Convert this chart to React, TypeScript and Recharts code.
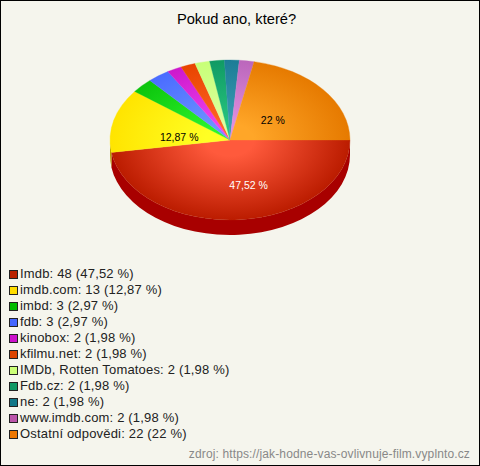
import React from 'react';
import { PieChart, Pie } from 'recharts';

const names = ['Imdb', 'imdb.com', 'imbd', 'fdb', 'kinobox', 'kfilmu.net', 'IMDb, Rotten Tomatoes', 'Fdb.cz', 'ne', 'www.imdb.com', 'Ostatní odpovědi'];
const counts = [48, 13, 3, 3, 2, 2, 2, 2, 2, 2, 22];
const percents = ['47,52', '12,87', '2,97', '2,97', '1,98', '1,98', '1,98', '1,98', '1,98', '1,98', '22'];
const shownLabels = [true, true, false, false, false, false, false, false, false, false, true];

const lightColors = ['#ff5a3c', '#ffff24', '#2cf42c', '#6c94ff', '#ee44ee', '#ff6424', '#dcffa0', '#26c47e', '#3a9db4', '#e08ee0', '#ffa628'];
const darkColors = ['#bb1c00', '#ffe400', '#0cc40c', '#4a6cff', '#cc18cc', '#e84400', '#c8ff78', '#109a64', '#1c7c96', '#bb66bb', '#e67a00'];
const sideColors = ['#a80000', '#b8a000', '#009000', '#2a4acc', '#990099', '#aa3000', '#99cc55', '#007744', '#005f77', '#884488', '#b85c00'];
const legendColors = ['#bb2200', '#ffdd00', '#00bb00', '#4466ff', '#cc11cc', '#dd4400', '#ccff77', '#119966', '#117788', '#bb55aa', '#ee7700'];
const labelColors = ['#ffffff', '#000000', '#000', '#000', '#000', '#000', '#000', '#000', '#000', '#000', '#000000'];
const labelOffsets: Record<number, [number, number]> = { 0: [13, -3], 1: [19, 9], 10: [-13, 10] };

const WIDTH = 480;
const HEIGHT = 466;
const CX = 230;
const CY = 140;
const RX = 120;
const RY = 80;
const DEPTH = 15;
const SQUASH = RY / RX;
const FONT = '"Liberation Sans", Arial, sans-serif';

const rows = names.map((name, i) => ({ name, value: counts[i], fill: legendColors[i] }));

function TopSlice(props: any) {
  const { cx, cy, outerRadius, startAngle, endAngle, name } = props;
  const i = names.indexOf(name);
  const toXY = (deg: number) => [
    cx + outerRadius * Math.cos((-deg * Math.PI) / 180),
    cy + outerRadius * Math.sin((-deg * Math.PI) / 180),
  ];
  const [x1, y1] = toXY(startAngle);
  const [x2, y2] = toXY(endAngle);
  const large = Math.abs(endAngle - startAngle) > 180 ? 1 : 0;
  const d = `M${cx},${cy}L${x1},${y1}A${outerRadius},${outerRadius} 0 ${large} 1 ${x2},${y2}Z`;
  return (
    <g transform={`translate(${cx},${cy}) scale(1,${SQUASH}) translate(${-cx},${-cy})`}>
      <path d={d} fill={`url(#slice-${i})`} stroke={`url(#slice-${i})`} strokeWidth={0.4} />
    </g>
  );
}

function SideSlice(props: any) {
  const { cx, cy, outerRadius, startAngle, endAngle, name } = props;
  const i = names.indexOf(name);
  const a0 = Math.min(-startAngle, -endAngle);
  const a1 = Math.min(Math.max(-startAngle, -endAngle), 180);
  if (a0 >= 180) return <g />;
  const ry = outerRadius * SQUASH;
  const pt = (deg: number, dy: number) =>
    `${cx + outerRadius * Math.cos((deg * Math.PI) / 180)},${cy + ry * Math.sin((deg * Math.PI) / 180) + dy}`;
  const d =
    `M${pt(a0, 0)}A${outerRadius},${ry} 0 0 1 ${pt(a1, 0)}` +
    `L${pt(a1, DEPTH)}A${outerRadius},${ry} 0 0 0 ${pt(a0, DEPTH)}Z`;
  return <path d={d} fill={sideColors[i]} />;
}

function SliceLabel(props: any) {
  const { cx, cy, midAngle, outerRadius, name } = props;
  const i = names.indexOf(name);
  if (!shownLabels[i]) return null;
  const rad = (midAngle * Math.PI) / 180;
  const [ox, oy] = labelOffsets[i];
  const x = cx + 0.6 * outerRadius * Math.cos(rad) + ox;
  const y = cy - 0.6 * outerRadius * SQUASH * Math.sin(rad) + oy;
  return (
    <text x={x} y={y} textAnchor="middle" dominantBaseline="central" fontSize={10.5} fontFamily={FONT} fill={labelColors[i]}>
      {`${percents[i]} %`}
    </text>
  );
}

function LegendList() {
  return (
    <div style={{ position: 'absolute', left: 9, top: 266, fontFamily: FONT, fontSize: 13, letterSpacing: 0.18, color: '#222' }}>
      {names.map((name, i) => (
        <div key={name} style={{ height: 16, lineHeight: '16px', display: 'flex', alignItems: 'center', whiteSpace: 'nowrap' }}>
          <span style={{ width: 7, height: 7, border: '1px solid #222', background: legendColors[i], marginRight: 2, flex: 'none' }} />
          <span>{`${name}: ${counts[i]} (${percents[i]} %)`}</span>
        </div>
      ))}
    </div>
  );
}

export default function App() {
  return (
    <div style={{ position: 'fixed', left: 0, top: 0, width: WIDTH, height: HEIGHT, boxSizing: 'border-box', border: '1px solid #000', background: '#f5f5ed' }}>
      <div style={{ position: 'absolute', left: -1, top: -1 }}>
        <PieChart width={WIDTH} height={HEIGHT} margin={{ top: 0, right: 0, bottom: 0, left: 0 }}>
          <defs>
            {names.map((name, i) => (
              <radialGradient key={name} id={`slice-${i}`} gradientUnits="userSpaceOnUse" cx={CX} cy={CY} r={RX}>
                <stop offset="20%" stopColor={lightColors[i]} />
                <stop offset="100%" stopColor={darkColors[i]} />
              </radialGradient>
            ))}
          </defs>
          <text x={236.5} y={19} textAnchor="middle" dominantBaseline="central" fontSize={14.7} fontFamily={FONT} fill="#000">
            Pokud ano, které?
          </text>
          <Pie
            data={rows}
            dataKey="value"
            nameKey="name"
            cx={CX}
            cy={CY}
            outerRadius={RX}
            startAngle={0}
            endAngle={-360}
            stroke="none"
            legendType="none"
            label={false}
            labelLine={false}
            isAnimationActive={false}
            shape={SideSlice}
          />
          <Pie
            data={rows}
            dataKey="value"
            nameKey="name"
            cx={CX}
            cy={CY}
            outerRadius={RX}
            startAngle={0}
            endAngle={-360}
            stroke="none"
            legendType="none"
            label={SliceLabel}
            labelLine={false}
            isAnimationActive={false}
            shape={TopSlice}
          />
          <text x={470} y={454} textAnchor="end" dominantBaseline="central" fontSize={12} letterSpacing={0.13} fontFamily={FONT} fill="#888888">
            zdroj: https://jak-hodne-vas-ovlivnuje-film.vyplnto.cz
          </text>
        </PieChart>
        <LegendList />
      </div>
    </div>
  );
}
